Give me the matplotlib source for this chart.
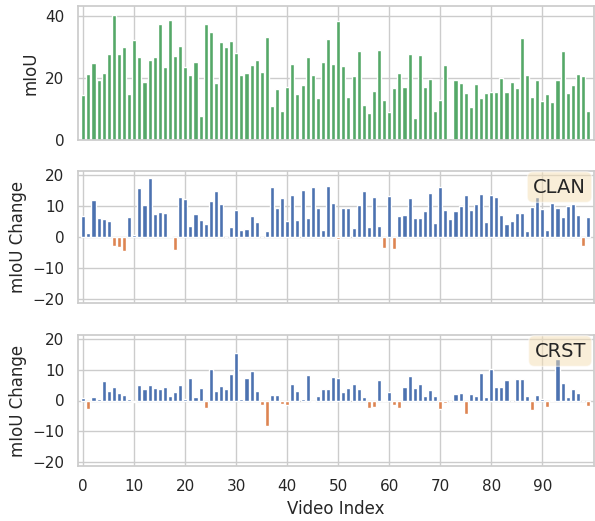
import numpy as np
import matplotlib
matplotlib.use("Agg")
import matplotlib.pyplot as plt
import seaborn as sns

video_index = np.arange(100)

miou = [14.6, 21.2, 24.8, 19.4, 21.6, 27.6, 40.3, 27.7, 30.1, 14.7,
        32.3, 26.8, 18.6, 25.8, 26.9, 37.3, 23.5, 38.7, 27.1, 30.4,
        23.4, 21.1, 25.2, 7.8, 37.4, 34.8, 18.5, 31.5, 29.9, 32.0,
        28.2, 21.0, 21.6, 24.2, 25.9, 22.0, 33.1, 11.1, 16.6, 9.4,
        17.2, 24.6, 14.9, 17.7, 26.8, 21.0, 13.4, 25.2, 32.5, 24.4,
        38.5, 23.7, 14.0, 20.6, 28.7, 11.2, 8.6, 15.8, 29.1, 13.0,
        9.1, 16.9, 21.5, 17.2, 27.6, 7.1, 27.4, 17.2, 19.7, 9.4,
        12.9, 24.2, 0.5, 19.4, 18.3, 15.3, 10.6, 18.1, 13.5, 15.1,
        15.5, 15.5, 19.9, 15.6, 18.7, 16.8, 33.0, 20.9, 14.0, 19.5,
        12.6, 14.9, 12.4, 19.4, 28.7, 15.2, 17.7, 21.4, 20.5, 9.2]

clan_change = [6.8, 1.4, 11.9, 6.2, 5.9, 5.2, -2.9, -3.1, -4.4, 6.5,
               0.5, 15.8, 10.4, 18.9, 7.5, 8.0, 7.8, 0.3, -4.1, 12.9,
               12.2, 3.4, 7.5, 5.6, 4.2, 11.5, 14.8, 10.5, 0.0, 3.2,
               8.6, 2.3, 2.6, 6.9, 4.7, 0.0, 1.9, 16.2, 9.4, 12.7,
               5.2, 13.4, 5.5, 15.3, 6.0, 16.1, 9.5, 2.3, 16.6, 11.1,
               -0.5, 9.2, 9.4, 2.9, 10.2, 14.8, 3.1, 12.9, 3.4, -3.5,
               13.3, -4.0, 6.7, 7.1, 12.7, 6.2, 6.0, 8.4, 14.1, 4.6,
               16.2, 8.8, 5.7, 8.4, 9.9, 13.7, 8.6, 10.5, 14.0, 4.9,
               13.4, 12.8, 7.2, 4.2, 5.2, 7.7, 7.6, 1.8, 9.8, 13.0,
               8.9, 2.2, 10.9, 9.5, 6.3, 9.9, 10.6, 7.2, -3.0, 6.4]

crst_change = [0.9, -2.9, 1.2, 0.5, 6.4, 3.1, 4.3, 2.6, 1.9, 0.5,
               -0.6, 5.0, 3.6, 5.0, 4.0, 3.6, 4.3, 1.6, 2.7, 5.2,
               0.5, 7.2, 1.0, 4.0, -2.4, 10.3, 3.2, 4.7, 3.8, 8.6,
               15.3, 0.5, 7.2, 9.6, 3.1, -1.4, -8.3, 1.8, 1.7, -1.0,
               -1.6, 5.3, 3.1, 0.5, 8.3, -0.5, 1.5, 3.8, 3.6, 7.8,
               7.4, 2.7, 4.0, 5.4, 3.6, 1.3, -2.5, -2.2, 6.6, 0.1,
               2.9, -1.6, -2.4, 4.4, 8.0, 4.1, 5.4, 1.4, 3.5, 1.6,
               -2.9, -0.9, 0.0, 2.1, 2.4, -4.4, 2.1, 1.6, 9.1, 1.2,
               10.4, 4.4, 4.4, 6.6, 0.0, 6.9, 6.9, 1.6, -3.0, 1.8,
               0.5, -2.1, 0.2, 13.6, 5.6, 1.2, 3.9, 2.6, 0.0, -1.7]

method_names = ["CLAN", "CRST"]
x_ticks = list(range(0, 100, 10))

sns.set_theme(style="whitegrid", palette="deep")
plt.rcParams['font.family'] = ['DejaVu Sans']

pal = sns.color_palette("deep")
green, blue, orange = pal[2], pal[0], pal[1]

fig = plt.figure(figsize=(5.95, 5.21), dpi=100)
W, H = 595.0, 521.0
left = 77.7 / W
width = 516.0 / W

def ax_rect(top_px, bot_px):
    return [left, 1 - bot_px / H, width, (bot_px - top_px) / H]

ax0 = fig.add_axes(ax_rect(6, 140))
ax1 = fig.add_axes(ax_rect(171, 303))
ax2 = fig.add_axes(ax_rect(335, 466))

ax0.bar(video_index, miou, color=green)
ax0.set_ylabel("mIoU")
ax0.set_ylim(0, 43.2)
ax0.set_yticks([0, 20, 40])

props = dict(boxstyle='round', facecolor='wheat', alpha=0.5)
for ax, vals, name in [(ax1, clan_change, method_names[0]),
                       (ax2, crst_change, method_names[1])]:
    vals = np.array(vals)
    cols = [blue if v >= 0 else orange for v in vals]
    ax.bar(video_index, vals, color=cols)
    ax.set_ylabel("mIoU Change")
    ax.set_ylim(-21.3, 21.3)
    ax.set_yticks([-20, -10, 0, 10, 20])
    ax.text(0.985, 0.95, name, transform=ax.transAxes, fontsize=14,
            ha='right', va='top', bbox=props)

for ax in (ax0, ax1, ax2):
    ax.set_xlim(-1.1, 100.1)
    ax.set_xticks(x_ticks)
for ax in (ax0, ax1):
    ax.set_xticklabels([])
ax2.set_xlabel("Video Index")

fig.savefig("out.png", dpi=100)
